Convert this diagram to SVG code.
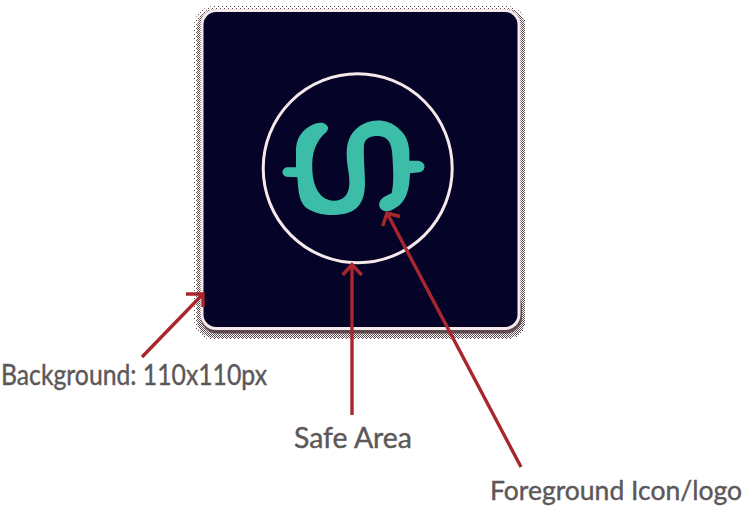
<svg xmlns="http://www.w3.org/2000/svg" width="745" height="512" viewBox="0 0 745 512">
<style>
.label{font-family:"Lato","Liberation Sans",sans-serif;font-size:28px;fill:#5c5759;stroke:#5c5759;stroke-width:0.4}
.arrow{fill:none;stroke:#a8272d;stroke-width:3.4}
</style>
<defs>
<pattern id="dither" width="2" height="2" patternUnits="userSpaceOnUse">
<rect width="1" height="1" fill="#5f4a4f"/>
<rect x="1" y="1" width="1" height="1" fill="#5f4a4f"/>
</pattern>
<pattern id="dither-sparse" width="4" height="4" patternUnits="userSpaceOnUse">
<rect width="1" height="1" fill="#5f4a4f"/>
<rect x="2" y="2" width="1" height="1" fill="#5f4a4f"/>
</pattern>
</defs>
<rect width="745" height="512" fill="#ffffff"/>
<g id="background-node">
<rect x="194" y="6" width="332" height="334" rx="20" fill="url(#dither-sparse)"/>
<rect x="197" y="9" width="328" height="329" rx="18" fill="url(#dither)"/>
<rect x="201" y="290" width="321" height="43.500" rx="16" fill="#5f4a4f"/>
<rect x="202" y="10.500" width="317" height="318" rx="14" fill="#060328" stroke="#f6e9ec" stroke-width="3"/>
</g>
<g id="safe-area-node">
<circle cx="357.700" cy="168.300" r="94.500" fill="none" stroke="#f6e9ec" stroke-width="3"/>
</g>
<g id="logo-node">
<path transform="translate(250 60) scale(0.3333)" fill="#3cbda8" d="M235 205C232 190 215 185 200 190C170 198 140 225 138 265L138 322L110 322C95 325 92 345 108 350L142 352C145 385 145 420 165 440C190 462 240 470 280 462C320 455 345 430 345 370C345 330 340 300 342 255C345 235 360 228 385 228C415 230 425 250 427 285C430 330 432 370 425 400C405 408 385 418 388 438C392 455 415 458 430 448C465 430 478 400 480 340L510 337C530 330 528 305 505 302L478 302C480 260 475 230 445 205C420 180 375 175 345 190C310 205 290 235 290 280C290 320 300 345 298 375C295 410 275 423 250 422C215 420 190 390 187 330C185 280 195 245 230 215Z"/>
</g>
<g id="connectors">
<path class="arrow" d="M142 357L203 294M186 294H203V307"/>
<path class="arrow" d="M352 415V265M342.700 275L352 264.500L361.700 275"/>
<path class="arrow" d="M521 467L387 213M382.700 226L387 213L400 216.500"/>
</g>
<g id="label-background"><text class="label" x="1" y="385" textLength="266" lengthAdjust="spacingAndGlyphs">Background: 110x110px</text></g>
<g id="label-safe-area"><text class="label" x="294" y="448" textLength="118" lengthAdjust="spacingAndGlyphs">Safe Area</text></g>
<g id="label-foreground"><text class="label" x="490" y="500" style="font-size:26.500px" textLength="252" lengthAdjust="spacingAndGlyphs">Foreground Icon/logo</text></g>
</svg>
